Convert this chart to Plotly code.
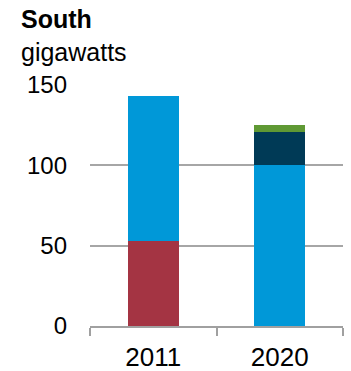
import plotly.graph_objects as go

years = ["2011", "2020"]
series_names = ["Red", "Blue", "Navy", "Green"]
red_vals = [53, 0]
blue_vals = [90, 100]
navy_vals = [0, 21]
green_vals = [0, 4]
y_ticks = [0, 50, 100, 150]

colors = ["#A43443", "#0098D8", "#003A56", "#5F9934"]
vals = [red_vals, blue_vals, navy_vals, green_vals]

fig = go.Figure()
for name, v, c in zip(series_names, vals, colors):
    fig.add_trace(go.Bar(x=years, y=v, name=name, marker=dict(color=c, line=dict(width=0)),
                         width=0.4, showlegend=False))

W, H = 351, 371
ml, mr, mt, mb = 90, 8, 85, 45
fig.update_layout(
    barmode="stack",
    width=W, height=H,
    margin=dict(l=ml, r=mr, t=mt, b=mb, pad=0),
    paper_bgcolor="white", plot_bgcolor="white",
    font=dict(family="Liberation Sans, Arial, sans-serif", size=24, color="black"),
    xaxis=dict(showgrid=False, showline=True, linecolor="#A0A0A0", linewidth=2,
               ticks="outside", tickson="boundaries", ticklen=8, tickcolor="#A0A0A0", tickwidth=2,
               tickfont=dict(size=26), ticklabelstandoff=7, automargin=False),
    yaxis=dict(range=[0, 150], tickvals=y_ticks, showgrid=True, gridcolor="#A6A6A6", gridwidth=2,
               zeroline=False, showline=False, ticks="", tickfont=dict(size=24),
               ticklabelstandoff=22, automargin=False),
)

pw = W - ml - mr
ph = H - mt - mb
def px_to_paper_x(px):
    return (px - ml) / pw
def px_to_paper_y(py):
    return (H - mb - py) / ph

fig.add_annotation(text="<b>South</b>", xref="paper", yref="paper",
                   x=px_to_paper_x(19), y=px_to_paper_y(3), xanchor="left", yanchor="top",
                   showarrow=False, font=dict(size=25))
fig.add_annotation(text="gigawatts", xref="paper", yref="paper",
                   x=px_to_paper_x(19), y=px_to_paper_y(36), xanchor="left", yanchor="top",
                   showarrow=False, font=dict(size=25))

fig.write_html("out.html")
